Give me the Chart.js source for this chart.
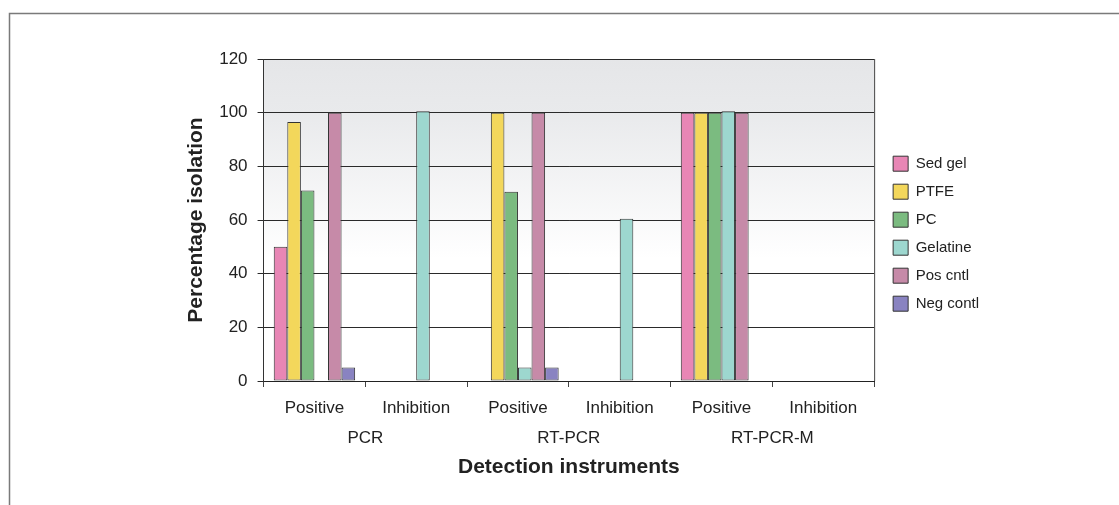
<!DOCTYPE html>
<html lang="en">
<head>
  <meta charset="UTF-8" />
  <title>Detection instruments</title>
  <style>
    * { box-sizing: border-box; }
    html, body { margin: 0; padding: 0; background: #fff; }
    #wrap { width: 1119px; height: 505px; position: relative; }
    canvas { display: block; }
  </style>
</head>
<body>
  <div id="wrap">
    <canvas id="chart" width="1119" height="505"></canvas>
  </div>

  <script src="https://cdn.jsdelivr.net/npm/chart.js"></script>
  <script>
    // tick labels
    const categories = ['Positive', 'Inhibition', 'Positive', 'Inhibition', 'Positive', 'Inhibition'];
    const groups = ['PCR', 'RT-PCR', 'RT-PCR-M'];

    // series values (% isolation)
    const sedGel   = [50, 0, 0, 0, 100, 0];
    const ptfe     = [96.5, 0, 100, 0, 100, 0];
    const pc       = [71, 0, 70.5, 0, 100, 0];
    const gelatine = [0, 100.5, 5, 60.5, 100.5, 0];
    const posCntl  = [100, 0, 100, 0, 100, 0];
    const negContl = [5, 0, 5, 0, 0, 0];

    const fontFam = "'Liberation Sans', Arial, sans-serif";

    // outer frame line like the original figure box
    const framePlugin = {
      id: 'frame',
      beforeDraw(chart) {
        const c = chart.ctx;
        c.save();
        c.strokeStyle = '#7a7a7a';
        c.lineWidth = 1.5;
        c.beginPath();
        c.moveTo(1119, 13.5);
        c.lineTo(9.5, 13.5);
        c.lineTo(9.5, 505);
        c.stroke();
        c.restore();
      }
    };

    // grey-to-white gradient behind the plot
    const plotBg = {
      id: 'plotBg',
      beforeDatasetsDraw(chart) {
        const { ctx: c, chartArea: a } = chart;
        const g = c.createLinearGradient(0, a.top, 0, a.bottom);
        g.addColorStop(0, '#e5e6e8');
        g.addColorStop(0.17, '#e9eaec');
        g.addColorStop(0.62, '#ffffff');
        g.addColorStop(1, '#ffffff');
        c.save();
        c.globalCompositeOperation = 'destination-over';
        c.fillStyle = g;
        c.fillRect(a.left, a.top, a.right - a.left, a.bottom - a.top);
        c.restore();
      }
    };

    const rightEdge = {
      id: 'rightEdge',
      afterDatasetsDraw(chart) {
        const { ctx: c, chartArea: a } = chart;
        c.save();
        c.strokeStyle = '#444';
        c.lineWidth = 1;
        c.beginPath();
        c.moveTo(a.right + 0.5, a.top);
        c.lineTo(a.right + 0.5, a.bottom);
        c.stroke();
        c.restore();
      }
    };

    function ds(label, data, color) {
      return {
        label: label,
        data: data,
        backgroundColor: color,
        borderColor: '#333',
        borderWidth: 1,
        borderSkipped: false,
        xAxisID: 'x',
        categoryPercentage: 0.8,
        barPercentage: 1.0
      };
    }

    new Chart(document.getElementById('chart').getContext('2d'), {
      type: 'bar',
      data: {
        labels: categories,
        datasets: [
          ds('Sed gel', sedGel, '#e886b5'),
          ds('PTFE', ptfe, '#f3d75b'),
          ds('PC', pc, '#7bbb80'),
          ds('Gelatine', gelatine, '#9dd7cf'),
          ds('Pos cntl', posCntl, '#c68aa8'),
          ds('Neg contl', negContl, '#8983c1')
        ]
      },
      options: {
        responsive: false,
        animation: false,
        layout: { padding: { left: 184, top: 59, right: 130, bottom: 25 } },
        plugins: {
          legend: {
            position: 'right',
            align: 'start',
            title: {
              display: true,
              text: ' ',
              font: { size: 1 },
              padding: { top: 0, bottom: 83 }
            },
            labels: {
              boxWidth: 15,
              boxHeight: 15,
              padding: 13,
              color: '#222',
              font: { family: fontFam, size: 15 }
            }
          },
          tooltip: { enabled: false }
        },
        scales: {
          x: {
            type: 'category',
            position: 'bottom',
            offset: true,
            grid: {
              offset: true,
              drawOnChartArea: false,
              drawTicks: true,
              tickLength: 6,
              color: '#444'
            },
            border: { display: true, color: '#222', width: 1 },
            ticks: {
              color: '#222',
              padding: 11,
              maxRotation: 0,
              font: { family: fontFam, size: 17 }
            }
          },
          x2: {
            type: 'category',
            labels: groups,
            position: 'bottom',
            offset: true,
            grid: { display: false },
            border: { display: false },
            ticks: {
              color: '#222',
              padding: -9,
              maxRotation: 0,
              font: { family: fontFam, size: 17 }
            },
            title: {
              display: true,
              text: 'Detection instruments',
              color: '#222',
              padding: { top: 15, bottom: 0 },
              font: { family: fontFam, size: 21, weight: 'bold' }
            }
          },
          y: {
            min: 0,
            max: 120,
            ticks: {
              stepSize: 20,
              color: '#222',
              padding: 10,
              font: { family: fontFam, size: 17 }
            },
            grid: {
              color: '#2a2a2a',
              lineWidth: 1,
              drawTicks: true,
              tickLength: 6
            },
            border: { display: true, color: '#333', width: 1 },
            title: {
              display: true,
              text: 'Percentage isolation',
              color: '#222',
              padding: { top: 0, bottom: 0 },
              font: { family: fontFam, size: 21, weight: 'bold' }
            }
          },
          // empty spacer on the right, keeps the legend clear of the plot
          yR: {
            type: 'linear',
            position: 'right',
            display: true,
            grid: { display: false },
            border: { display: false },
            ticks: { display: false },
            afterFit(scale) { scale.width = 6; }
          }
        }
      },
      plugins: [framePlugin, plotBg, rightEdge]
    });
  </script>
</body>
</html>
